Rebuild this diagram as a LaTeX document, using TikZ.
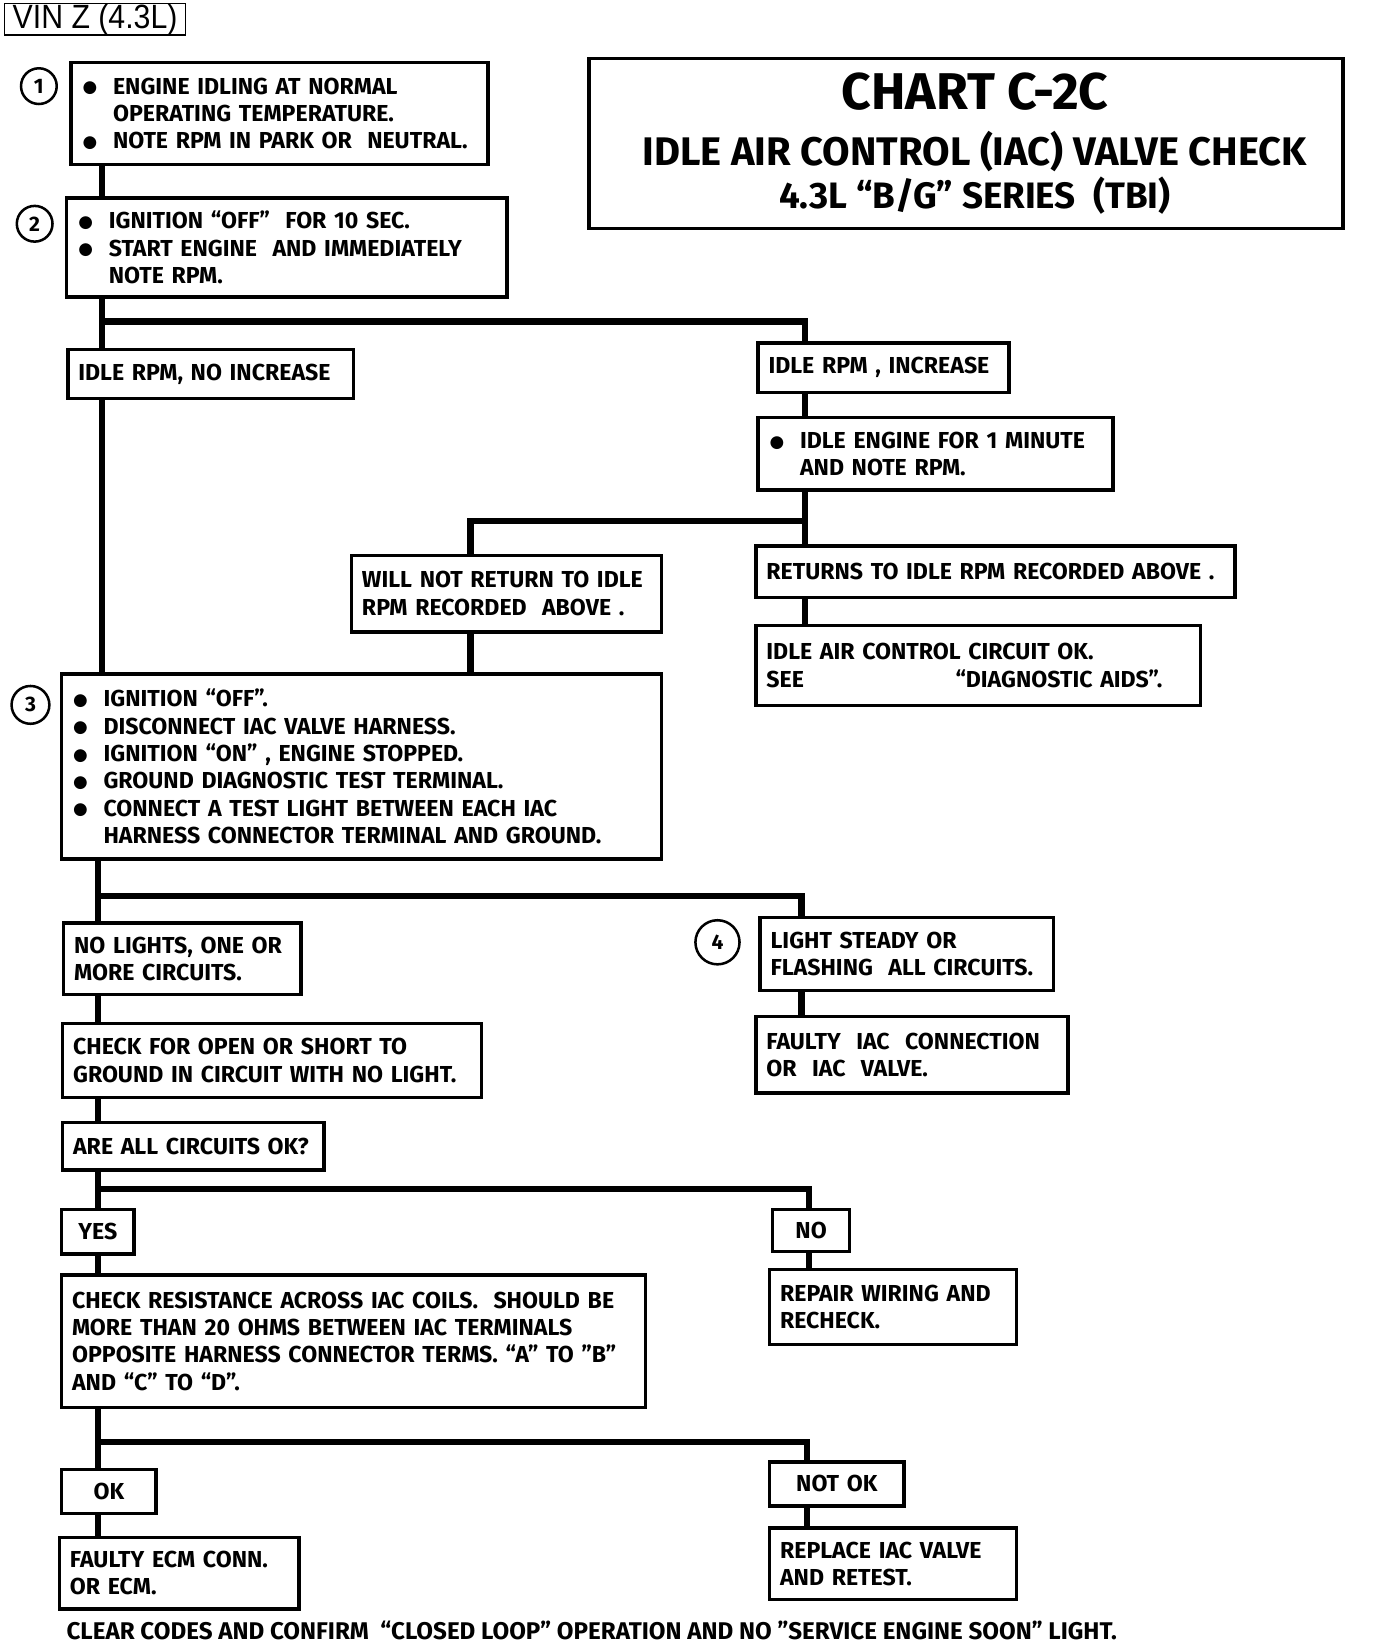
\documentclass[tikz,border=0pt]{standalone}
\usepackage{fontspec}
\newfontfamily\cf{Fira Sans}
\newfontfamily\dv{DejaVu Sans}
\newfontfamily\vinf{Liberation Sans}[FakeStretch=0.9]
\newcommand\bul{\makebox[15pt][l]{\hspace{0.5pt}\raisebox{0.6pt}{\dv\fontsize{8}{8}\selectfont ●}}}
\newcommand\ind{\hspace*{15pt}}
\begin{document}
\begin{tikzpicture}[x=0.5pt,y=-0.5pt,
  box/.style={draw, line width=1.6pt, anchor=north west, inner ysep=0pt, inner xsep=5pt, align=left,
    font=\cf\bfseries\fontsize{11}{13}\selectfont},
  cbox/.style={box, align=center},
  sz/.code 2 args={\pgfmathsetlengthmacro\tw{#1*0.5pt-10pt}\pgfkeysalso{minimum width=#1*0.5pt, minimum height=#2*0.5pt, text width=\tw}},
  conn/.style={line width=3pt, line join=miter},
  circ/.style={draw, circle, line width=1.2pt, inner sep=0pt, font=\cf\bfseries\fontsize{10}{12}\selectfont},
  ttl/.style={anchor=base, inner sep=0pt, font=\cf\bfseries\fontsize{#1}{#1}\selectfont}]
\useasboundingbox (0,0) rectangle (1310,1565);
% header
\node[draw, line width=0.5pt, anchor=north west, minimum width=86pt, minimum height=14.5pt, inner sep=0pt,
  font=\vinf\fontsize{16}{16}\selectfont] (vin) at (4,3) {VIN Z (4.3L)};
\node[box, sz={718}{162}] (title) at (559,54) {};
\node[ttl=24.6] (tt1) at (928,104) {CHART C-2C};
\node[ttl=19] (tt2) at (928,158) {IDLE AIR CONTROL (IAC) VALVE CHECK};
\node[ttl=17.5] (tt3) at (928,198) {4.3L “B/G” SERIES\ \ (TBI)};
% circles
\node[circ, minimum size=17pt] (c1) at (37,82) {1};
\node[circ, minimum size=17pt] (c2) at (33,213) {2};
\node[circ, minimum size=18pt] (c3) at (29,671) {3};
\node[circ, minimum size=21pt] (c4) at (683,897) {4};
% boxes
\node[box, sz={397}{97}] (b1) at (66,58) {\bul ENGINE IDLING AT NORMAL\\ \ind OPERATING TEMPERATURE.\\ \bul NOTE RPM IN PARK OR\ \ NEUTRAL.};
\node[box, sz={419}{94}] (b2) at (62,187) {\bul IGNITION “OFF”\ \ FOR 10 SEC.\\ \bul START ENGINE\ \ AND IMMEDIATELY\\ \ind NOTE RPM.};
\node[box, sz={272}{47}] (ninc) at (63,331) {IDLE RPM, NO INCREASE};
\node[box, sz={239}{47}] (inc) at (720,325) {IDLE RPM , INCREASE};
\node[box, sz={338}{69}] (idle) at (720,396) {\bul IDLE ENGINE FOR 1 MINUTE\\ \ind AND NOTE RPM.};
\node[box, sz={295}{73}] (wnr) at (333,527) {WILL NOT RETURN TO IDLE\\ RPM RECORDED\ \ ABOVE .};
\node[box, sz={456}{49}] (ret) at (718,518) {RETURNS TO IDLE RPM RECORDED ABOVE .};
\node[box, sz={423}{76}] (iacok) at (718,594) {IDLE AIR CONTROL CIRCUIT OK.\\ \makebox[90pt][l]{SEE}“DIAGNOSTIC AIDS”.};
\node[box, sz={571}{176}] (b3) at (57,640) {\bul IGNITION “OFF”.\\ \bul DISCONNECT IAC VALVE HARNESS.\\ \bul IGNITION “ON” , ENGINE STOPPED.\\ \bul GROUND DIAGNOSTIC TEST TERMINAL.\\ \bul CONNECT A TEST LIGHT BETWEEN EACH IAC\\ \ind HARNESS CONNECTOR TERMINAL AND GROUND.};
\node[box, sz={226}{68}] (nol) at (59,877) {NO LIGHTS, ONE OR\\ MORE CIRCUITS.};
\node[box, sz={399}{70}] (chk) at (58,973) {CHECK FOR OPEN OR SHORT TO\\ GROUND IN CIRCUIT WITH NO LIGHT.};
\node[box, sz={249}{45}] (aac) at (58,1067) {ARE ALL CIRCUITS OK?};
\node[box, sz={279}{69}] (lsf) at (722,872) {LIGHT STEADY OR\\ FLASHING\ \ ALL CIRCUITS.};
\node[box, sz={297}{73}] (fiac) at (718,966) {FAULTY\ \ IAC\ \ CONNECTION\\ OR\ \ IAC\ \ VALVE.};
\node[cbox, sz={69}{42}] (yes) at (57,1150) {YES};
\node[cbox, sz={73}{40}] (no) at (734,1150) {NO};
\node[box, sz={556}{126}] (res) at (57,1212) {CHECK RESISTANCE ACROSS IAC COILS.\ \ SHOULD BE\\ MORE THAN 20 OHMS BETWEEN IAC TERMINALS\\ OPPOSITE HARNESS CONNECTOR TERMS. “A” TO ”B”\\ AND “C” TO “D”.};
\node[box, sz={235}{71}] (rep) at (731,1207) {REPAIR WIRING AND\\ RECHECK.};
\node[cbox, sz={90}{42}] (ok) at (57,1397) {OK};
\node[cbox, sz={128}{42}] (notok) at (731,1390) {NOT OK};
\node[box, sz={228}{68}] (fecm) at (55,1462) {FAULTY ECM CONN.\\ OR ECM.};
\node[box, sz={235}{68}] (repl) at (731,1453) {REPLACE IAC VALVE\\ AND RETEST.};
\node[anchor=base west, inner sep=0pt, font=\cf\bfseries\fontsize{11.5}{13}\selectfont] (foot) at (63,1561)
  {CLEAR CODES AND CONFIRM\ \ “CLOSED LOOP” OPERATION AND NO ”SERVICE ENGINE SOON” LIGHT.};
% trunk coordinates
\coordinate (tA) at (97,0);
\coordinate (tR) at (766,0);
\coordinate (tW) at (448,0);
\coordinate (tC) at (93,0);
\coordinate (tL) at (763,0);
\coordinate (tN) at (770,0);
\coordinate (tO) at (768,0);
\coordinate (jA) at (97,306);
\coordinate (jB) at (766,496);
\coordinate (jC) at (93,853);
\coordinate (jD) at (93,1132);
\coordinate (jE) at (93,1373);
% connectors
\draw[conn] (b1.south -| tA) -- (b2.north -| tA);
\draw[conn] (b2.south -| tA) -- (ninc.north -| tA);
\draw[conn] (jA) -| (inc.north -| tR);
\draw[conn] (ninc.south -| tA) -- (b3.north -| tA);
\draw[conn] (inc.south -| tR) -- (idle.north -| tR);
\draw[conn] (idle.south -| tR) -- (ret.north -| tR);
\draw[conn] (jB) -| (wnr.north -| tW);
\draw[conn] (wnr.south -| tW) -- (b3.north -| tW);
\draw[conn] (ret.south -| tR) -- (iacok.north -| tR);
\draw[conn] (b3.south -| tC) -- (nol.north -| tC);
\draw[conn] (jC) -| (lsf.north -| tL);
\draw[conn] (lsf.south -| tL) -- (fiac.north -| tL);
\draw[conn] (nol.south -| tC) -- (chk.north -| tC);
\draw[conn] (chk.south -| tC) -- (aac.north -| tC);
\draw[conn] (aac.south -| tC) -- (yes.north -| tC);
\draw[conn] (jD) -| (no.north -| tN);
\draw[conn] (no.south -| tN) -- (rep.north -| tN);
\draw[conn] (yes.south -| tC) -- (res.north -| tC);
\draw[conn] (res.south -| tC) -- (ok.north -| tC);
\draw[conn] (jE) -| (notok.north -| tO);
\draw[conn] (notok.south -| tO) -- (repl.north -| tO);
\draw[conn] (ok.south -| tC) -- (fecm.north -| tC);
\end{tikzpicture}
\end{document}
